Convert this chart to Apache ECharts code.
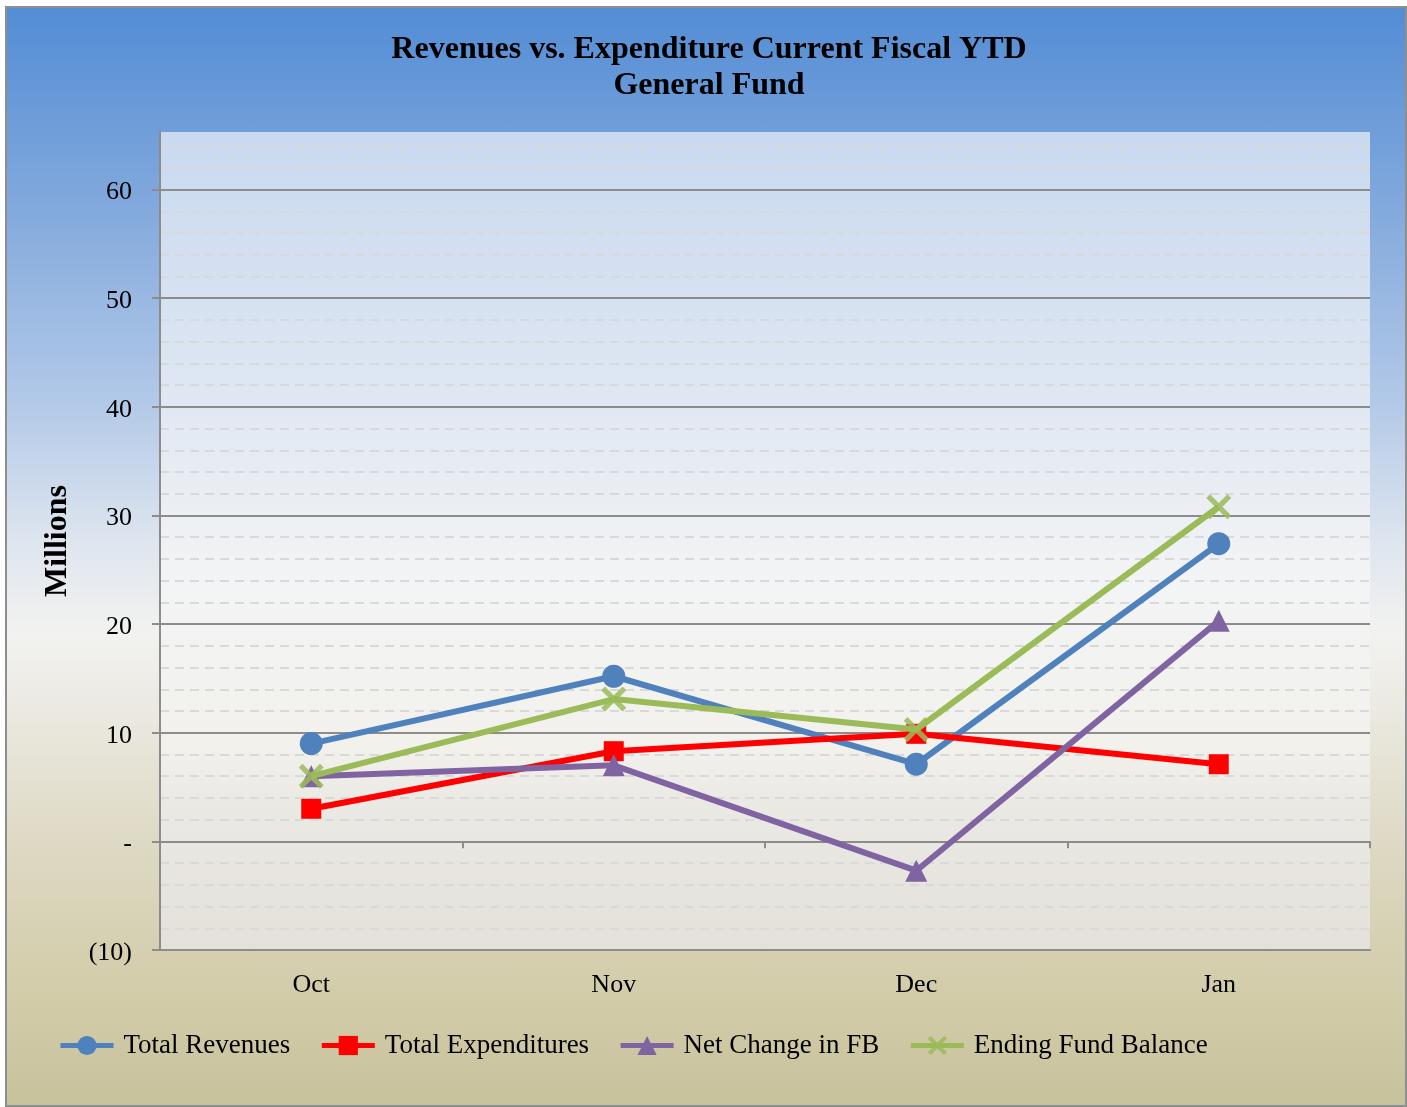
<!DOCTYPE html>
<html>
<head>
<meta charset="utf-8">
<script src="https://cdn.jsdelivr.net/npm/echarts@6/dist/echarts.min.js"></script>
<style>
  html, body { margin: 0; padding: 0; background: #ffffff; }
  #bg {
    position: absolute; left: 5px; top: 6px; width: 1402px; height: 1101px;
    box-sizing: border-box; border: 2px solid #8e8e8e;
    background: linear-gradient(to bottom,
      #538dd5 0%, #7fa7dc 17%, #b3c9e8 36%, #dfe6ef 49%, #f2f2f0 57%,
      #ebe9e1 64%, #ddd8c2 77%, #d2cca9 90%, #c7c19c 100%);
  }
  #chart { position: absolute; left: 0; top: 0; width: 1407px; height: 1107px; }
</style>
</head>
<body>
<div id="bg"></div>
<div id="chart"></div>
<script>
const months = ['Oct', 'Nov', 'Dec', 'Jan'];
const totalRevenues = [9.0, 15.2, 7.1, 27.4];
const totalExpenditures = [3.0, 8.3, 9.9, 7.1];
const netChangeFB = [6.0, 7.0, -2.7, 20.3];
const endingFundBalance = [6.0, 13.1, 10.3, 30.8];
const yMin = -10, yMax = 65.3;

const FONT = "'Liberation Serif', 'Times New Roman', serif";
const crossPath = 'path://M1.5,0 L5,3.5 L8.5,0 L10,1.5 L6.5,5 L10,8.5 L8.5,10 L5,6.5 L1.5,10 L0,8.5 L3.5,5 L0,1.5 Z';

const chart = echarts.init(document.getElementById('chart'), null, { renderer: 'canvas' });

function fmt(v) {
  if (Math.abs(v % 10) > 1e-6) return '';
  let s;
  if (v === 0) s = '-';
  else if (v < 0) s = '(' + (-v) + ')';
  else s = String(v);
  return '{t|' + s + '}';
}

const option = {
  backgroundColor: 'transparent',
  animation: false,
  title: {
    text: 'Revenues vs. Expenditure Current Fiscal YTD\nGeneral Fund',
    left: 704,
    top: 27,
    textAlign: 'center',
    textStyle: { fontFamily: FONT, fontSize: 32, fontWeight: 'bold', color: '#000', lineHeight: 36, align: 'center' }
  },
  legend: {
    left: 53,
    top: 1027,
    itemWidth: 53,
    itemHeight: 24,
    itemGap: 29,
    lineStyle: { width: 5 },
    textStyle: { fontFamily: FONT, fontSize: 27, color: '#000', padding: [0, 0, 0, 5] },
    data: ['Total Revenues', 'Total Expenditures', 'Net Change in FB', 'Ending Fund Balance']
  },
  grid: {
    left: 160, right: 37, top: 132, bottom: 157,
    show: true,
    borderWidth: 0,
    backgroundColor: {
      type: 'linear', x: 0, y: 0, x2: 0, y2: 1,
      colorStops: [
        { offset: 0, color: '#c9d9ef' },
        { offset: 0.3, color: '#dde6f2' },
        { offset: 0.55, color: '#f3f4f5' },
        { offset: 0.75, color: '#f2f1ec' },
        { offset: 0.82, color: '#ebe9e3' },
        { offset: 1, color: '#e3e1da' }
      ]
    }
  },
  xAxis: [
    {
      type: 'category', data: months, boundaryGap: true,
      axisLine: { show: true, onZero: true, lineStyle: { color: '#8c8c8c', width: 2 } },
      axisTick: { show: true, length: 7, lineStyle: { color: '#8c8c8c', width: 2 } },
      axisLabel: { show: false },
      splitLine: { show: false },
      z: 3
    },
    {
      type: 'category', data: months, boundaryGap: true, position: 'bottom',
      axisLine: { show: true, onZero: false, lineStyle: { color: '#8c8c8c', width: 2 } },
      axisTick: { show: false },
      axisLabel: { show: true, fontFamily: FONT, fontSize: 26, color: '#000', margin: 22 },
      splitLine: { show: false },
      z: 3
    }
  ],
  yAxis: [
    {
      type: 'value', min: yMin, max: yMax, interval: 10, position: 'left',
      name: 'Millions', nameLocation: 'middle', nameRotate: 90, nameGap: 86,
      nameTextStyle: { fontFamily: FONT, fontSize: 32, fontWeight: 'bold', color: '#000' },
      axisLine: { show: true, lineStyle: { color: '#8c8c8c', width: 2 } },
      axisTick: { show: true, length: 8, lineStyle: { color: '#8c8c8c', width: 2 } },
      axisLabel: {
        show: true, margin: 28, formatter: fmt, showMaxLabel: false,
        rich: { t: { fontFamily: FONT, fontSize: 26, color: '#000', padding: [6, 0, 0, 0] } }
      },
      splitLine: { show: true, showMinLine: true, showMaxLine: false, lineStyle: { color: '#8c8c8c', width: 2 } },
      z: 2
    },
    {
      type: 'value', min: yMin, max: yMax, interval: 2, position: 'left',
      axisLine: { show: false }, axisTick: { show: false }, axisLabel: { show: false },
      splitLine: { show: true, showMinLine: false, showMaxLine: false, lineStyle: { color: '#d9d9d9', width: 2, type: [9, 6] } },
      z: 1
    }
  ],
  series: [
    {
      name: 'Total Revenues', type: 'line', data: totalRevenues,
      xAxisIndex: 0, yAxisIndex: 0,
      symbol: 'circle', symbolSize: 23, showAllSymbol: true,
      lineStyle: { color: '#4f81bd', width: 6 },
      itemStyle: { color: '#4f81bd' }, z: 5
    },
    {
      name: 'Total Expenditures', type: 'line', data: totalExpenditures,
      xAxisIndex: 0, yAxisIndex: 0,
      symbol: 'rect', symbolSize: 20, showAllSymbol: true,
      lineStyle: { color: '#ff0000', width: 6 },
      itemStyle: { color: '#ff0000' }, z: 6
    },
    {
      name: 'Net Change in FB', type: 'line', data: netChangeFB,
      xAxisIndex: 0, yAxisIndex: 0,
      symbol: 'triangle', symbolSize: 22, showAllSymbol: true,
      lineStyle: { color: '#8064a2', width: 6 },
      itemStyle: { color: '#8064a2' }, z: 7
    },
    {
      name: 'Ending Fund Balance', type: 'line', data: endingFundBalance,
      xAxisIndex: 0, yAxisIndex: 0,
      symbol: crossPath, symbolSize: 25, showAllSymbol: true,
      lineStyle: { color: '#9bbb59', width: 6 },
      itemStyle: { color: '#9bbb59', opacity: 0.85 }, z: 8
    }
  ]
};
chart.setOption(option);
</script>
</body>
</html>
